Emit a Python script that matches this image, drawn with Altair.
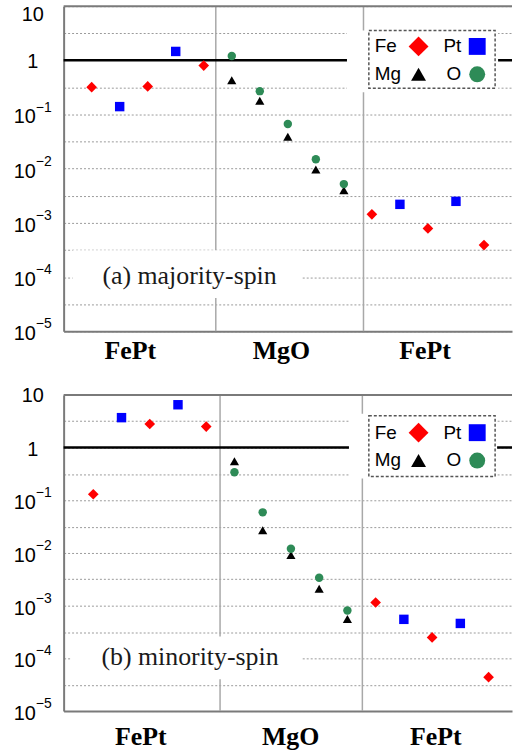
import altair as alt
import pandas as pd

# ---------------- data ----------------
ELEMENTS = ["Fe", "Pt", "Mg", "O"]
ELEMENT_COLORS = ["#ff0000", "#0000ff", "#000000", "#2e8b57"]
ELEMENT_SHAPES = ["diamond", "square", "triangle-up", "circle"]

REGION_NAMES = ["FePt", "MgO", "FePt"]

# (a) majority-spin
A_INDEX = [0, 1, 2, 3, 4, 5, 5, 6, 6, 7, 7, 8, 8, 9, 9, 10, 11, 12, 13, 14]
A_ELEMENT = ["Fe", "Pt", "Fe", "Pt", "Fe", "O", "Mg", "O", "Mg", "O", "Mg",
             "O", "Mg", "O", "Mg", "Fe", "Pt", "Fe", "Pt", "Fe"]
A_VALUE = [0.32, 0.14, 0.33, 1.46, 0.80, 1.2, 0.43, 0.27, 0.18, 0.067, 0.039,
           0.015, 0.0097, 0.0052, 0.0040, 0.00144, 0.0022, 0.00079, 0.0025, 0.00039]

# (b) minority-spin
B_INDEX = [0, 1, 2, 3, 4, 5, 5, 6, 6, 7, 7, 8, 8, 9, 9, 10, 11, 12, 13, 14]
B_ELEMENT = ["Fe", "Pt", "Fe", "Pt", "Fe", "Mg", "O", "O", "Mg", "O", "Mg",
             "O", "Mg", "O", "Mg", "Fe", "Pt", "Fe", "Pt", "Fe"]
B_VALUE = [0.13, 3.7, 2.8, 6.5, 2.5, 0.55, 0.34, 0.059, 0.027, 0.012, 0.0091,
           0.0034, 0.0021, 0.00081, 0.00056, 0.00115, 0.00055, 0.00025, 0.00046, 0.000044]

TICK_VALUES = [10, 1, 0.1, 0.01, 0.001, 0.0001, 0.00001]
TICK_BASE = ["10", "1", "10", "10", "10", "10", "10"]
TICK_EXP = ["", "", "\u22121", "\u22122", "\u22123", "\u22124", "\u22125"]
GRID_VALUES = [1e-5, 10 ** -4.5, 1e-4, 10 ** -3.5, 1e-3, 10 ** -2.5, 1e-2,
               10 ** -1.5, 1e-1, 10 ** -0.5, 1, 10 ** 0.5, 10]
UNITY = [1.0]

# ---------------- styles ----------------
SANS = "Liberation Sans"
SERIF = "Liberation Serif"
BORDER = "#7a7a7a"
GRID = "#9a9a9a"
SEP = "#a8a8a8"
POINT_SIZES = {"Fe": 115, "Pt": 90, "Mg": 85, "O": 72}
LEGEND_SIZES = {"Fe": 400, "Pt": 289, "Mg": 225, "O": 256}
LEG_COL = {"Fe": 0, "Pt": 1, "Mg": 0, "O": 1}
LEG_ROW = {"Fe": 0, "Pt": 0, "Mg": 1, "O": 1}
W = 451


def panel(idx, elem, val, p):
    df = pd.DataFrame({"idx": idx, "element": elem, "value": val})
    xs = alt.Scale(domain=p["xdom"], nice=False, zero=False)
    ys = alt.Scale(type="log", domain=[1e-5, 10], nice=False)
    xax = alt.Axis(title=None, labels=False, ticks=False, grid=False,
                   domainColor=BORDER, domainWidth=2)
    yax = alt.Axis(title=None, labels=False, ticks=False, grid=True,
                   values=GRID_VALUES, gridColor=GRID, gridDash=[2, 2], gridWidth=1,
                   domainColor=BORDER, domainWidth=2, minExtent=63, maxExtent=63)

    def X(f):
        return alt.X(f, type="quantitative", scale=xs, axis=xax)

    def Y(f):
        return alt.Y(f, type="quantitative", scale=ys, axis=yax)

    H = p["height"]
    layers = []

    sep_df = pd.DataFrame({"idx": p["seps"]})
    layers.append(alt.Chart(sep_df).mark_rule(color=SEP, strokeWidth=1.5).encode(x=X("idx")))

    one_df = pd.DataFrame({"value": UNITY})
    layers.append(alt.Chart(one_df).mark_rule(color="black", strokeWidth=2.5).encode(y=Y("value")))

    # top border
    layers.append(alt.Chart(one_df).mark_rule(color=BORDER, strokeWidth=2).encode(
        y=alt.value(0), x=alt.value(0), x2=alt.value(W)))

    # panel label with white box
    lab_df = pd.DataFrame({"text": [p["label"]]})
    bx = p["box"]
    layers.append(alt.Chart(lab_df).mark_rect(color="white").encode(
        x=alt.value(bx[0]), x2=alt.value(bx[1]), y=alt.value(bx[2]), y2=alt.value(bx[3])))
    layers.append(alt.Chart(lab_df).mark_text(font=SERIF, fontSize=26, align="left",
                                               baseline="middle", color="#1a1a1a").encode(
        x=alt.value(p["label_xy"][0]), y=alt.value(p["label_xy"][1]), text="text:N"))

    # legend box
    lb = p["leg_bg"]
    lr = p["leg_border"]
    layers.append(alt.Chart(lab_df).mark_rect(color="white").encode(
        x=alt.value(lb[0]), x2=alt.value(lb[1]), y=alt.value(lb[2]), y2=alt.value(lb[3])))
    layers.append(alt.Chart(lab_df).mark_rect(filled=False, stroke="#555555", strokeWidth=1.5,
                                               strokeDash=[3, 2]).encode(
        x=alt.value(lr[0]), x2=alt.value(lr[1]), y=alt.value(lr[2]), y2=alt.value(lr[3])))
    for e, c, s in zip(ELEMENTS, ELEMENT_COLORS, ELEMENT_SHAPES):
        col, row = LEG_COL[e], LEG_ROW[e]
        ty = p["leg_rows"][row]
        edf = pd.DataFrame({"text": [e]})
        if col == 0:
            layers.append(alt.Chart(edf).mark_text(font=SANS, fontSize=19, align="left",
                                                    baseline="middle", color="black").encode(
                x=alt.value(313), y=alt.value(ty), text="text:N"))
            sx = 357
        else:
            layers.append(alt.Chart(edf).mark_text(font=SANS, fontSize=19, align="right",
                                                    baseline="middle", color="black").encode(
                x=alt.value(400), y=alt.value(ty), text="text:N"))
            sx = 416
        layers.append(alt.Chart(edf).mark_point(shape=s, filled=True, color=c, opacity=1,
                                                 size=LEGEND_SIZES[e], strokeWidth=0).encode(
            x=alt.value(sx), y=alt.value(ty)))

    # data points
    for e, c, s in zip(ELEMENTS, ELEMENT_COLORS, ELEMENT_SHAPES):
        sub = df[df["element"] == e]
        layers.append(alt.Chart(sub).mark_point(shape=s, filled=True, color=c, opacity=1,
                                                 size=POINT_SIZES[e], strokeWidth=0).encode(
            x=X("idx"), y=Y("value")))

    # y tick labels
    tick_df = pd.DataFrame({"value": TICK_VALUES, "base": TICK_BASE, "exp": TICK_EXP})
    tc = alt.Chart(tick_df)
    layers.append(tc.transform_filter("datum.value >= 10").mark_text(
        font=SANS, fontSize=20, align="center", baseline="middle", dy=p["top_dy"], color="black").encode(
        y=Y("value"), x=alt.value(-31), text="base:N"))
    layers.append(tc.transform_filter("datum.value < 10 && datum.exp == ''").mark_text(
        font=SANS, fontSize=20, align="center", baseline="middle", dy=2, color="black").encode(
        y=Y("value"), x=alt.value(-31), text="base:N"))
    layers.append(tc.transform_filter("datum.exp != ''").mark_text(
        font=SANS, fontSize=20, align="right", baseline="middle", dy=3, color="black").encode(
        y=Y("value"), x=alt.value(-28), text="base:N"))
    layers.append(tc.transform_filter("datum.exp != ''").mark_text(
        font=SANS, fontSize=14, align="left", baseline="middle", dy=-7, color="black").encode(
        y=Y("value"), x=alt.value(-28), text="exp:N"))

    # region labels
    reg_df = pd.DataFrame({"idx": p["region_x"], "name": REGION_NAMES})
    layers.append(alt.Chart(reg_df).mark_text(font=SERIF, fontSize=26, fontWeight="bold",
                                               baseline="middle", align="center", color="black").encode(
        x=X("idx"), y=alt.value(H + p["region_dy"]), text="name:N"))

    return alt.layer(*layers).properties(width=W, height=H)


PA = dict(xdom=[-1, 15], height=327, seps=[4.43, 9.7], region_x=[1.38, 6.77, 11.9],
          region_dy=20, top_dy=8.5, label="(a) majority-spin", box=(9, 239, 245.5, 293.5),
          label_xy=(39, 271.5), leg_bg=(285, 437, 24.5, 86.5), leg_border=(307, 434, 24.5, 82.5),
          leg_rows=(40.5, 68.5))
PB = dict(xdom=[-1.05, 14.83], height=318, seps=[4.49, 9.53], region_x=[1.68, 6.99, 12.13],
          region_dy=26, top_dy=1, label="(b) minority-spin", box=(8, 239, 243, 286),
          label_xy=(38, 264), leg_bg=(287, 436, 19, 84), leg_border=(307, 434, 21, 82),
          leg_rows=(38, 66))

chart = alt.vconcat(
    panel(A_INDEX, A_ELEMENT, A_VALUE, PA),
    panel(B_INDEX, B_ELEMENT, B_VALUE, PB),
    spacing=20,
).properties(
    padding={"left": 0, "top": 2, "right": 0, "bottom": 0},
    background="white",
).configure_view(stroke="transparent")

chart.save("out.html", embed_options={"renderer": "svg", "actions": False})
